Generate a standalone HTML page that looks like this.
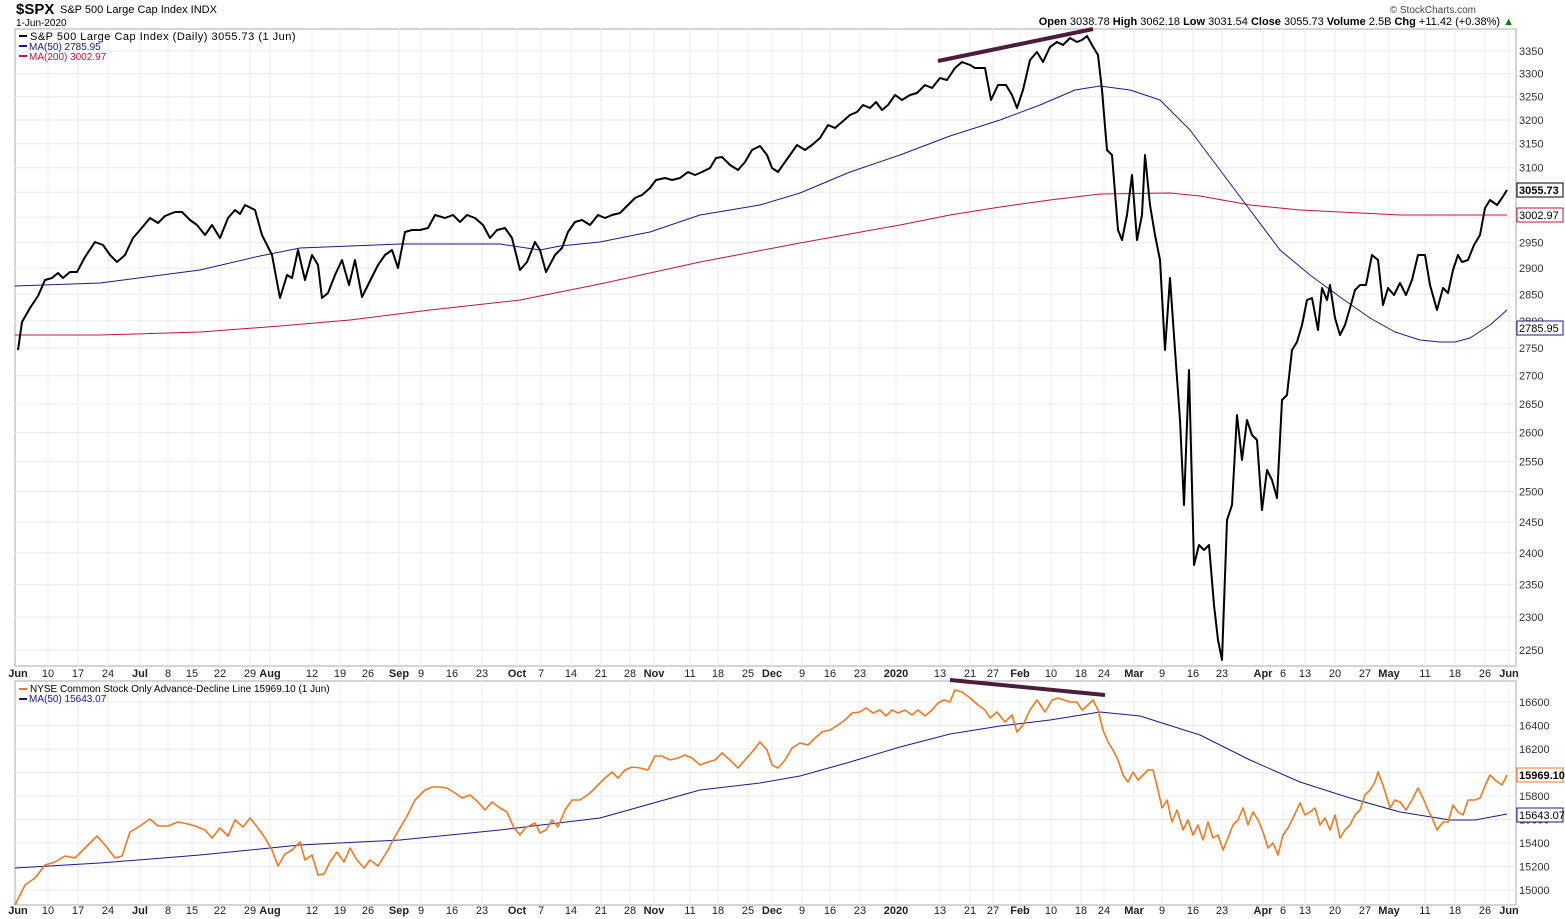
<!DOCTYPE html>
<html><head><meta charset="utf-8"><style>
body{margin:0;background:#fff;}
svg{display:block;font-family:"Liberation Sans",sans-serif;}
</style></head><body>
<svg id="s" width="1565" height="919" xmlns="http://www.w3.org/2000/svg"></svg>
<script>
const S=document.getElementById('s');let h='';
const L=15,R=1516,T1=29,B1=666,T2=681,B2=905;
const GC='#ebebeb';
h+=`<rect x="${L}" y="${T1}" width="${R-L}" height="${B1-T1}" fill="#fff" stroke="#aaa"/>`;
h+=`<rect x="${L}" y="${T2}" width="${R-L}" height="${B2-T2}" fill="#fff" stroke="#aaa"/>`;
const d=[["Jun",18,1],["10",48],["17",78],["24",108],["Jul",140,1],["8",168],["15",192],["22",220],["29",250],["Aug",270,1],["12",312],["19",340],["26",368],["Sep",399,1],["9",421],["16",452],["23",482],["Oct",517,1],["7",541],["14",571],["21",601],["28",630],["Nov",654,1],["11",690],["18",718],["25",748],["Dec",772,1],["9",802],["16",830],["23",860],["2020",896,1],["13",940],["21",970],["27",993],["Feb",1020,1],["10",1051],["18",1081],["24",1104],["Mar",1134,1],["9",1162],["16",1193],["23",1222],["Apr",1263,1],["6",1283],["13",1305],["20",1335],["27",1365],["May",1389,1],["11",1425],["18",1455],["26",1485],["Jun",1509,1]];
for(const [t,x,b] of d){
 if(x>L+3&&x<R-3){h+=`<line x1="${x}" y1="${T1}" x2="${x}" y2="${B1}" stroke="${GC}"/><line x1="${x}" y1="${T2}" x2="${x}" y2="${B2}" stroke="${GC}"/>`;}
 for(const y of [677,914]) h+=`<text x="${x}" y="${y}" font-size="11" text-anchor="middle" ${b?'font-weight="bold"':''} fill="#222">${t}</text>`;
}
const yT=v=>51+1505*(Math.log(3350)-Math.log(v));
for(let v=2250;v<=3350;v+=50){const y=yT(v);h+=`<line x1="${L}" y1="${y}" x2="${R}" y2="${y}" stroke="${GC}"/><text x="${R+3}" y="${y+4}" font-size="11" fill="#333">${v}</text>`;}
const yB=v=>702+(16600-v)/200*23.5;
for(let v=15000;v<=16600;v+=200){const y=yB(v);h+=`<line x1="${L}" y1="${y}" x2="${R}" y2="${y}" stroke="${GC}"/><text x="${R+3}" y="${y+4}" font-size="11" fill="#333">${v}</text>`;}
const P=(pts,c,w)=>`<polyline points="${pts.join(' ')}" fill="none" stroke="${c}" stroke-width="${w}" stroke-linejoin="round"/>`;
const red=[15,335,100,335,200,332,280,326,350,320,430,310,520,300,600,284,700,262,800,243,900,225,950,215,1000,207,1050,200,1100,194,1170,193,1200,196,1250,205,1300,210,1400,215,1507,215];
const blue=[15,286,100,283,200,270,260,256,300,248,400,244,500,244,540,250,560,246,600,242,650,232,700,215,760,205,800,193,850,172,900,155,950,136,1000,120,1040,105,1075,90,1100,86,1130,90,1160,100,1190,130,1220,170,1250,210,1280,250,1310,275,1340,297,1370,318,1395,332,1420,340,1440,342,1455,342,1470,338,1490,325,1507,310];
const blk=[18,350,22,322,30,308,38,296,45,280,52,278,58,273,63,278,70,272,77,272,85,257,95,242,103,245,110,255,117,262,125,255,133,238,140,230,150,218,158,223,165,216,175,212,182,212,190,220,197,225,205,235,212,225,220,238,228,218,235,210,240,214,245,205,255,210,262,235,272,255,280,298,287,275,292,278,298,250,305,280,312,255,318,265,322,298,328,293,335,275,342,260,349,285,355,260,362,297,368,285,378,265,385,255,392,250,398,268,405,232,412,230,420,230,428,228,435,215,445,218,453,215,460,222,467,215,475,218,483,225,490,238,497,230,505,228,512,238,520,270,527,262,535,242,540,250,546,272,555,255,562,248,568,232,575,222,582,220,590,225,598,215,605,218,612,215,620,213,628,205,635,198,642,195,650,188,656,180,665,178,672,180,680,178,688,172,695,175,702,172,710,168,716,158,722,157,730,165,738,170,745,162,752,150,760,146,767,155,772,168,778,172,785,162,790,155,797,145,805,150,812,145,820,138,828,125,835,128,842,122,850,115,857,112,863,105,870,108,876,102,882,110,888,105,895,95,902,100,910,95,917,93,925,85,932,88,940,78,947,80,955,68,962,62,970,65,975,68,985,68,991,100,998,85,1006,85,1012,95,1017,108,1023,90,1030,60,1037,52,1043,62,1050,47,1057,42,1063,45,1070,38,1077,42,1082,40,1087,36,1092,45,1098,55,1102,90,1107,150,1112,155,1118,230,1122,240,1127,215,1132,175,1137,240,1142,215,1145,155,1150,205,1155,235,1160,260,1165,350,1170,278,1175,350,1180,420,1184,505,1189,370,1194,565,1199,545,1204,550,1209,545,1214,605,1218,640,1222,660,1227,520,1232,505,1237,415,1242,460,1247,420,1252,435,1257,440,1262,510,1267,470,1272,480,1277,498,1282,400,1287,395,1292,350,1297,342,1302,325,1307,300,1312,298,1318,330,1322,288,1327,300,1330,285,1335,318,1340,335,1345,325,1350,308,1355,290,1360,285,1366,285,1372,255,1378,260,1383,305,1388,288,1394,295,1400,283,1406,295,1412,280,1418,255,1425,255,1430,285,1437,310,1443,288,1448,293,1453,270,1458,255,1462,262,1468,260,1474,245,1480,235,1485,208,1490,200,1497,205,1502,198,1507,190];
const org=[15,905,25,885,35,878,45,865,55,862,65,856,75,858,85,848,97,836,105,845,115,858,122,856,130,832,140,826,150,819,158,826,168,826,178,822,188,824,195,826,205,830,212,838,220,828,228,836,235,820,243,827,250,818,258,828,265,838,272,850,278,866,285,854,292,850,300,842,305,860,312,855,318,875,324,874,330,862,337,852,344,862,350,848,357,860,364,868,370,860,378,866,383,858,388,850,393,840,400,828,407,816,415,800,425,790,432,787,440,787,447,788,455,793,462,798,470,795,478,802,485,810,492,802,500,808,507,812,514,828,520,835,525,828,535,823,540,833,546,830,552,820,558,827,565,810,572,800,580,800,590,793,598,785,605,778,612,772,618,778,625,770,632,767,640,768,648,770,655,756,662,756,670,760,678,758,685,755,692,758,700,765,708,762,715,760,722,753,730,760,738,768,745,760,752,752,760,742,767,750,772,765,778,768,785,760,792,748,800,743,808,745,815,738,822,732,830,730,838,725,845,720,852,713,860,712,866,708,873,713,880,710,886,716,892,710,898,713,905,710,912,715,918,710,925,716,932,710,938,703,944,700,950,702,955,690,962,692,970,698,978,705,985,710,990,718,997,712,1005,722,1012,715,1017,732,1023,725,1030,710,1037,700,1045,712,1052,700,1058,698,1064,700,1070,702,1077,702,1082,710,1088,705,1093,700,1098,710,1103,730,1108,742,1113,750,1118,760,1123,775,1128,782,1133,772,1138,780,1143,775,1148,770,1153,770,1158,790,1162,808,1167,800,1172,822,1177,810,1183,830,1188,820,1193,835,1198,825,1203,840,1208,822,1213,838,1218,835,1223,850,1228,838,1233,825,1238,820,1243,808,1248,825,1253,812,1258,820,1263,832,1268,848,1273,843,1278,855,1283,835,1288,828,1293,818,1300,803,1305,815,1310,812,1315,808,1320,825,1325,818,1330,830,1335,815,1340,838,1345,830,1350,825,1355,815,1360,810,1365,795,1370,790,1375,782,1378,772,1383,785,1390,808,1395,800,1400,802,1406,810,1412,800,1418,788,1423,798,1428,810,1433,820,1437,830,1443,822,1448,822,1453,805,1458,812,1463,815,1468,800,1475,800,1480,798,1485,786,1490,775,1495,780,1502,785,1507,775];
const blue2=[15,868,100,863,200,855,300,845,400,840,500,830,600,818,700,790,760,783,800,776,850,762,900,747,950,734,1000,726,1050,720,1100,712,1140,716,1200,735,1250,760,1300,782,1350,798,1400,812,1450,820,1475,820,1507,814];
const pr=a=>{let o=[];for(let i=0;i<a.length;i+=2)o.push(a[i]+','+a[i+1]);return o;};
h+=P(pr(red),'#c0143c',1)+P(pr(blue),'#1a1a8c',1)+P(pr(blk),'#000',2);
h+=P(pr(blue2),'#1a1a8c',1)+P(pr(org),'#f07820',1.6);
h+=`<line x1="938" y1="61" x2="1093" y2="29" stroke="#4b1c3c" stroke-width="4"/>`;
h+=`<line x1="950" y1="680" x2="1105" y2="695" stroke="#4b1c3c" stroke-width="4"/>`;
const tag=(y,t,c,bold)=>`<rect x="${R+1}" y="${y-7}" width="46" height="14" fill="#fff" stroke="${c}"/><text x="${R+3}" y="${y+4}" font-size="11" fill="#000" ${bold?'font-weight="bold"':''}>${t}</text>`;
h+=tag(190,'3055.73','#000',1)+tag(215,'3002.97','#c0143c')+tag(328,'2785.95','#1a1a8c')+tag(775,'15969.10','#f07820',1)+tag(815,'15643.07','#1a1a8c');
h+=`<text x="16" y="14" font-size="15" font-weight="bold">$SPX</text><text x="60" y="13" font-size="11">S&amp;P 500 Large Cap Index  INDX</text>`;
h+=`<text x="16" y="26" font-size="10">1-Jun-2020</text>`;
h+=`<line x1="19" y1="36" x2="27" y2="36" stroke="#000" stroke-width="2"/><text x="30" y="40" font-size="11" letter-spacing="0.5">S&amp;P 500 Large Cap Index (Daily) 3055.73 (1 Jun)</text>`;
h+=`<line x1="19" y1="46" x2="27" y2="46" stroke="#1a1a8c" stroke-width="2"/><text x="29" y="50" font-size="10" fill="#1a1a8c">MA(50) 2785.95</text>`;
h+=`<line x1="19" y1="56" x2="27" y2="56" stroke="#c0143c" stroke-width="2"/><text x="29" y="60" font-size="10" fill="#c0143c">MA(200) 3002.97</text>`;
h+=`<text x="1476" y="13" font-size="10" fill="#444" text-anchor="end">© StockCharts.com</text>`;
h+=`<text x="1514" y="25" font-size="11" text-anchor="end"><tspan font-weight="bold">Open</tspan> 3038.78 <tspan font-weight="bold">High</tspan> 3062.18 <tspan font-weight="bold">Low</tspan> 3031.54 <tspan font-weight="bold">Close</tspan> 3055.73 <tspan font-weight="bold">Volume</tspan> 2.5B <tspan font-weight="bold">Chg</tspan> +11.42 (+0.38%) <tspan fill="#080">▲</tspan></text>`;
h+=`<line x1="19" y1="689" x2="27" y2="689" stroke="#f07820" stroke-width="2"/><text x="30" y="692" font-size="10">NYSE Common Stock Only Advance-Decline Line 15969.10 (1 Jun)</text>`;
h+=`<line x1="19" y1="699" x2="27" y2="699" stroke="#1a1a8c" stroke-width="2"/><text x="29" y="702" font-size="10" fill="#1a1a8c">MA(50) 15643.07</text>`;
S.innerHTML=h;
</script>
</body></html>
